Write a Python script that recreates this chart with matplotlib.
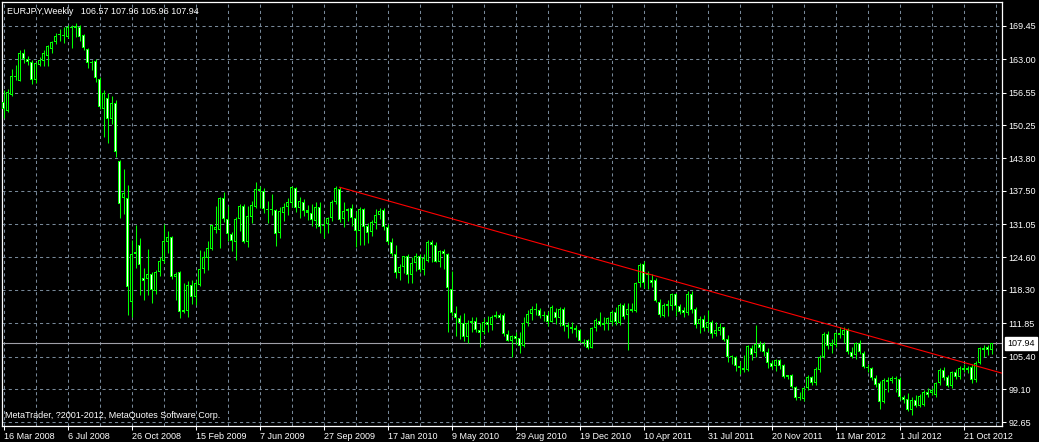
import numpy as np
import matplotlib
matplotlib.use("Agg")
import matplotlib.pyplot as plt

plt.rcParams['font.family'] = ['Liberation Sans', 'DejaVu Sans']

# weekly EURJPY candles, week 0 = 16 Mar 2008
opens = [154.8, 153.0, 156.1, 159.8, 158.8, 164.2, 163.0, 162.5, 159.0, 161.9,
         162.7, 163.6, 164.9, 166.4, 167.7, 167.8, 167.4, 169.3, 169.0, 169.3,
         167.7, 164.9, 162.3, 162.7, 159.2, 153.3, 155.4, 151.4, 154.5, 143.2,
         136.2, 136.1, 116.0, 125.3, 127.1, 120.7, 120.4, 121.4, 118.0, 121.8,
         124.0, 127.6, 128.5, 120.9, 121.7, 114.4, 114.3, 119.3, 116.9, 119.3,
         122.3, 124.4, 126.2, 130.0, 130.0, 136.2, 132.0, 129.1, 127.6, 132.0,
         134.6, 127.6, 132.5, 134.4, 137.9, 137.5, 133.9, 133.7, 133.8, 129.3,
         133.3, 134.3, 135.2, 138.0, 134.1, 135.4, 133.7, 133.3, 131.7, 134.3,
         130.9, 131.1, 132.2, 135.3, 137.9, 132.0, 133.5, 134.1, 132.2, 129.8,
         133.9, 130.7, 129.6, 131.3, 132.8, 133.8, 130.5, 127.5, 125.3, 121.6,
         122.8, 124.9, 121.2, 123.6, 124.9, 122.1, 124.0, 127.6, 127.1, 123.8,
         125.9, 125.3, 118.4, 113.9, 112.8, 111.9, 109.2, 111.9, 112.3, 110.5,
         110.2, 112.1, 111.5, 113.1, 113.4, 113.4, 109.8, 108.5, 109.3, 108.9,
         107.4, 111.9, 113.6, 114.7, 114.5, 113.2, 113.4, 112.1, 114.1, 112.8,
         114.7, 111.5, 111.2, 110.9, 110.5, 108.3, 108.6, 107.1, 110.9, 112.3,
         111.9, 111.7, 112.1, 114.1, 111.9, 115.4, 113.4, 114.7, 114.3, 119.7,
         123.4, 121.2, 120.2, 120.2, 116.0, 113.3, 115.1, 115.1, 117.5, 115.2,
         114.4, 113.75, 117.6, 114.7, 111.7, 112.6, 110.9, 112.0, 109.7, 110.4,
         111.05, 108.8, 105.3, 105.4, 103.5, 103.2, 102.7, 107.0, 106.0, 107.8,
         107.8, 106.3, 104.2, 103.55, 104.7, 103.75, 101.4, 101.8, 99.4, 97.3,
         97.2, 99.2, 101.4, 100.3, 102.8, 105.4, 109.8, 107.5, 107.6, 110.0,
         109.6, 110.6, 106.3, 105.7, 108.0, 106.0, 103.4, 103.1, 101.2, 100.2,
         96.6, 100.85, 100.7, 101.2, 101.0, 97.6, 97.1, 95.03, 96.97, 95.8,
         96.0, 98.6, 98.4, 97.9, 100.2, 102.8, 101.4, 99.7, 102.45, 101.4,
         103.1, 102.7, 103.4, 100.85, 104.1, 107.0, 107.3, 106.57]
highs = [157.0, 157.2, 161.1, 161.9, 164.8, 165.0, 163.6, 162.8, 162.4, 163.5,
         164.8, 165.8, 166.5, 168.15, 168.8, 169.3, 169.6, 169.7, 170.0, 169.7,
         167.9, 165.2, 162.8, 163.1, 159.5, 157.1, 156.5, 155.8, 155.1, 143.5,
         141.7, 138.6, 128.0, 130.9, 128.3, 122.5, 126.2, 121.8, 122.2, 124.6,
         131.1, 129.7, 128.8, 121.8, 121.9, 119.6, 120.0, 120.2, 120.2, 126.0,
         125.85, 127.8, 131.0, 134.6, 136.4, 137.3, 134.6, 129.5, 132.5, 134.9,
         134.9, 134.6, 135.6, 139.2, 138.5, 138.1, 135.6, 136.9, 133.9, 134.3,
         135.2, 136.1, 138.5, 138.2, 136.3, 136.0, 134.8, 135.0, 135.4, 135.4,
         132.0, 132.5, 135.8, 138.4, 138.3, 135.4, 134.2, 134.9, 133.5, 134.3,
         134.1, 131.2, 131.8, 133.9, 134.1, 134.1, 131.0, 128.3, 127.0, 123.4,
         124.9, 125.2, 124.6, 125.5, 125.3, 125.3, 128.0, 128.0, 127.5, 126.0,
         126.2, 125.4, 122.0, 115.2, 113.5, 113.9, 112.5, 113.0, 113.1, 111.85,
         112.9, 113.3, 113.4, 114.3, 113.9, 113.8, 110.6, 109.6, 110.2, 110.2,
         113.0, 114.4, 115.1, 115.7, 114.8, 114.3, 114.3, 115.4, 114.8, 115.0,
         115.0, 112.1, 112.0, 111.5, 110.8, 108.7, 108.8, 111.2, 112.8, 114.0,
         113.1, 113.0, 114.4, 115.0, 115.8, 115.7, 115.7, 115.7, 119.9, 123.6,
         123.9, 122.0, 121.3, 120.7, 116.5, 115.8, 116.3, 117.8, 117.8, 115.6,
         115.0, 118.0, 118.0, 115.0, 113.2, 113.4, 114.5, 112.5, 112.0, 111.9,
         111.2, 109.6, 105.7, 105.5, 104.5, 105.7, 107.6, 107.6, 111.5, 108.5,
         108.3, 107.0, 104.8, 105.0, 105.0, 104.0, 101.9, 102.0, 99.7, 98.6,
         99.5, 101.8, 101.7, 103.3, 105.6, 110.1, 110.3, 108.7, 110.2, 111.2,
         111.2, 111.0, 107.2, 108.3, 108.6, 106.4, 104.0, 103.4, 101.8, 100.6,
         101.2, 101.5, 101.6, 101.7, 101.5, 98.0, 98.3, 97.5, 98.0, 98.1,
         98.9, 99.2, 99.3, 100.5, 103.2, 103.3, 101.9, 102.6, 103.0, 103.5,
         103.9, 103.6, 103.9, 104.5, 107.3, 107.6, 107.6, 107.96]
lows = [151.6, 152.8, 155.8, 159.0, 158.7, 162.2, 161.9, 158.3, 158.4, 161.6,
        161.6, 161.7, 164.3, 165.9, 166.5, 166.1, 167.2, 165.1, 167.4, 166.6,
        164.8, 161.25, 160.9, 158.66, 153.3, 148.0, 146.8, 150.5, 144.1, 132.2,
        133.1, 113.45, 113.1, 122.5, 117.3, 116.4, 117.3, 115.8, 117.5, 121.0,
        123.6, 125.4, 120.5, 116.4, 112.8, 113.8, 113.0, 115.5, 115.4, 119.0,
        121.6, 122.2, 126.0, 129.4, 126.4, 131.5, 127.8, 125.9, 124.1, 129.8,
        127.3, 126.6, 131.3, 134.2, 134.2, 133.3, 131.3, 132.8, 126.8, 128.3,
        131.6, 132.8, 134.4, 133.4, 132.3, 132.6, 131.9, 130.7, 130.3, 129.3,
        128.3, 129.3, 131.6, 134.9, 131.4, 130.5, 131.6, 130.7, 126.7, 127.1,
        127.1, 127.3, 128.8, 130.2, 132.0, 130.0, 127.2, 124.8, 120.7, 120.2,
        121.5, 119.6, 119.7, 122.0, 121.8, 121.2, 123.8, 123.8, 123.8, 122.8,
        122.3, 110.2, 113.3, 109.4, 108.7, 108.5, 108.0, 110.2, 110.2, 107.2,
        109.8, 110.2, 110.5, 112.8, 112.5, 109.3, 108.4, 105.4, 107.8, 106.1,
        107.3, 111.3, 112.5, 113.4, 112.9, 112.3, 111.4, 112.0, 111.7, 111.3,
        110.3, 108.9, 109.9, 109.2, 108.2, 107.4, 106.9, 107.0, 110.4, 111.3,
        110.6, 110.6, 111.6, 111.6, 111.6, 112.6, 106.6, 114.0, 114.0, 118.9,
        118.7, 118.5, 118.8, 116.0, 113.0, 113.0, 113.2, 114.5, 113.3, 113.6,
        113.0, 113.5, 113.9, 111.0, 110.0, 110.3, 110.3, 109.0, 109.3, 109.5,
        108.5, 104.3, 104.0, 102.6, 102.0, 102.3, 102.5, 104.7, 105.4, 106.5,
        105.5, 103.2, 103.0, 102.5, 103.0, 101.2, 101.0, 99.2, 97.0, 97.0,
        96.8, 99.0, 99.9, 99.8, 102.4, 105.2, 106.9, 106.0, 107.3, 109.0,
        108.0, 105.8, 105.2, 104.9, 105.8, 103.1, 102.3, 100.8, 99.5, 95.3,
        96.3, 98.6, 100.2, 98.6, 96.9, 96.3, 94.8, 94.06, 95.6, 95.6,
        95.8, 97.5, 97.9, 97.6, 99.9, 100.8, 99.4, 99.3, 101.0, 101.0,
        102.3, 102.2, 100.2, 100.5, 103.9, 105.4, 105.6, 105.96]
closes = [153.3, 156.6, 159.8, 159.5, 164.2, 163.0, 162.4, 158.9, 162.2, 162.8,
          164.3, 165.6, 166.3, 167.5, 167.8, 167.5, 169.3, 169.0, 169.4, 167.4,
          165.1, 162.3, 162.5, 159.3, 153.7, 156.4, 151.4, 154.5, 145.1, 134.9,
          137.1, 118.9, 125.3, 125.7, 123.1, 120.1, 121.4, 118.2, 121.7, 123.9,
          127.8, 128.5, 120.9, 121.4, 114.0, 114.0, 119.3, 117.0, 119.6, 122.3,
          124.7, 126.4, 130.9, 130.55, 136.2, 132.0, 129.1, 127.8, 132.0, 134.6,
          127.6, 132.6, 134.8, 137.9, 137.5, 133.9, 133.7, 133.9, 129.1, 133.5,
          134.3, 135.3, 138.2, 134.1, 135.6, 133.5, 133.3, 131.8, 134.3, 130.5,
          130.7, 132.3, 135.3, 138.0, 131.8, 133.5, 133.9, 132.2, 129.8, 133.9,
          130.5, 129.4, 131.5, 132.8, 133.6, 130.5, 127.5, 125.3, 121.6, 122.8,
          124.9, 121.2, 123.6, 124.9, 122.1, 124.5, 127.6, 127.0, 123.8, 125.9,
          125.3, 118.6, 113.9, 112.8, 111.9, 109.2, 111.9, 112.3, 110.5, 110.0,
          112.1, 111.5, 113.1, 113.4, 112.8, 109.8, 108.5, 109.3, 108.8, 107.4,
          111.9, 113.6, 114.7, 114.4, 113.2, 113.3, 112.1, 115.0, 112.8, 114.7,
          111.4, 111.05, 110.7, 110.5, 108.4, 108.0, 107.1, 110.9, 112.5, 111.5,
          111.6, 112.8, 114.1, 112.0, 115.4, 113.1, 114.7, 114.3, 119.7, 123.2,
          119.6, 121.6, 119.6, 116.2, 113.4, 115.4, 115.6, 117.5, 115.1, 114.1,
          113.75, 117.6, 114.5, 111.6, 112.6, 110.9, 112.0, 109.7, 110.5, 111.05,
          108.6, 105.3, 105.5, 103.5, 103.2, 102.8, 107.4, 105.7, 107.8, 107.0,
          106.3, 104.1, 103.3, 104.7, 103.5, 101.4, 101.8, 99.4, 97.3, 97.6,
          99.2, 101.4, 100.3, 102.9, 105.4, 109.8, 107.5, 108.0, 110.0, 109.6,
          110.6, 106.3, 105.4, 108.0, 106.3, 103.4, 103.1, 101.2, 99.9, 96.6,
          100.85, 100.5, 101.2, 101.0, 97.6, 97.0, 95.03, 96.97, 95.8, 97.75,
          98.6, 97.9, 98.9, 100.2, 102.8, 101.2, 99.7, 102.3, 101.4, 103.1,
          102.8, 103.1, 100.85, 104.1, 107.0, 106.7, 106.6, 107.94]

price_ticks = [169.45, 163.00, 156.55, 150.25, 143.80, 137.50, 131.05,
               124.60, 118.30, 111.85, 105.40, 99.10, 92.65]
date_labels = ['16 Mar 2008', '6 Jul 2008', '26 Oct 2008', '15 Feb 2009',
               '7 Jun 2009', '27 Sep 2009', '17 Jan 2010', '9 May 2010',
               '29 Aug 2010', '19 Dec 2010', '10 Apr 2011', '31 Jul 2011',
               '20 Nov 2011', '11 Mar 2012', '1 Jul 2012', '21 Oct 2012']
trend_x = [84, 209]
trend_y = [138.2, 111.0]

o = np.array(opens); h = np.array(highs); l = np.array(lows); c = np.array(closes)
idx = np.arange(len(c))

LIME = '#00ff00'
GRID = '#778899'
PX = 1 / 5.16   # one pixel in price units

fig = plt.figure(figsize=(10.39, 4.42), dpi=100, facecolor='black')
ax = fig.add_axes([2 / 1039, 16.3 / 442, 999.7 / 1039, 423.4 / 442])
ax.set_facecolor('black')
ax.set_xlim(-0.425, 249.5)
ax.set_ylim(91.99, 174.04)

# grid
for p in price_ticks:
    ax.axhline(p, color=GRID, lw=0.75, ls=(0, (3, 3)), zorder=0)
for gx in range(0, 250, 8):
    ax.axvline(gx, color=GRID, lw=0.75, ls=(0, (3, 3)), zorder=0)

# current price line
ax.axhline(c[-1], color='#a0a0a8', lw=0.8, zorder=1)

# candles: wick, lime body, then 1px inner fill (white = down, black = up)
ax.vlines(idx, l, h, color=LIME, lw=0.75, zorder=2)
body_lo = np.minimum(o, c)
body_h = np.maximum(np.abs(c - o), PX)
ax.bar(idx, body_h, bottom=body_lo, width=0.72, color=LIME, linewidth=0,
       zorder=3, antialiased=False)
inner = body_h > 2.5 * PX
face = np.where(c < o, 'white', 'black')
ax.bar(idx[inner], body_h[inner] - 2 * PX, bottom=body_lo[inner] + PX, width=0.25,
       color=face[inner], linewidth=0, zorder=4, antialiased=False)

# trendline (ray to the right edge)
slope = (trend_y[1] - trend_y[0]) / (trend_x[1] - trend_x[0])
x_end = ax.get_xlim()[1]
ax.plot([trend_x[0], x_end], [trend_y[0], trend_y[0] + slope * (x_end - trend_x[0])],
        color='red', lw=0.8, zorder=5)

for s in ax.spines.values():
    s.set_color('white')
    s.set_linewidth(0.9)

ax.yaxis.tick_right()
ax.set_yticks(price_ticks)
ax.set_yticklabels([f'{p:.2f}' for p in price_ticks])
ax.tick_params(axis='y', colors='white', length=3, width=0.75, labelsize=6.5, pad=2)
ax.set_xticks(np.arange(0, 16 * len(date_labels), 16))
ax.set_xticklabels(date_labels, ha='left')
ax.tick_params(axis='x', colors='white', length=3, width=0.75, labelsize=6.5, pad=1.5)

ax.annotate(f'{c[-1]:.2f}', xy=(1.0, c[-1]), xycoords=('axes fraction', 'data'),
            xytext=(4, 0), textcoords='offset points', va='center', ha='left',
            fontsize=6.5, color='black',
            bbox=dict(boxstyle='square,pad=0.25', fc='white', ec='white'))

fig.text(7 / 1039, 1 - 11 / 442,
         f'EURJPY,Weekly   {o[-1]:.2f} {h[-1]:.2f} {l[-1]:.2f} {c[-1]:.2f}',
         color='white', fontsize=6.5, va='center', ha='left')
fig.text(5 / 1039, 1 - 416 / 442, 'MetaTrader, ?2001-2012, MetaQuotes Software Corp.',
         color='white', fontsize=6.5, va='center', ha='left')

fig.savefig('out.png', dpi=100, facecolor='black')
